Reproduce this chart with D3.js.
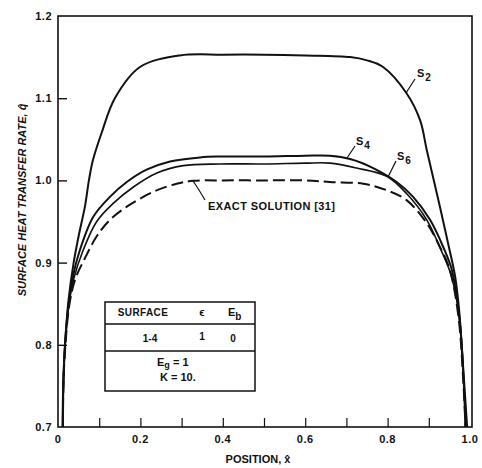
<!DOCTYPE html>
<html>
<head>
<meta charset="utf-8">
<script src="https://cdn.jsdelivr.net/npm/d3@7"></script>
<style>
  body { margin: 0; background: #fff; }
  svg { display: block; }
  text { font-family: "Liberation Sans", Arial, sans-serif; font-weight: bold; fill: #111; }
</style>
</head>
<body>
<div id="chart"></div>
<script>
// x positions and surface heat transfer rates
const s2X = [0.011, 0.013, 0.017, 0.025, 0.038, 0.050, 0.066, 0.075, 0.085, 0.106, 0.138, 0.199, 0.296, 0.400, 0.500, 0.600, 0.709, 0.750, 0.789, 0.846, 0.879, 0.895, 0.927, 0.947, 0.964, 0.974, 0.985, 0.993];
const s2Y = [0.700, 0.757, 0.800, 0.852, 0.900, 0.932, 0.970, 1.000, 1.025, 1.058, 1.100, 1.138, 1.152, 1.153, 1.153, 1.152, 1.150, 1.146, 1.138, 1.106, 1.073, 1.037, 0.968, 0.923, 0.883, 0.840, 0.760, 0.700];

const s4X = [0.012, 0.013, 0.017, 0.026, 0.035, 0.053, 0.086, 0.126, 0.167, 0.215, 0.272, 0.345, 0.393, 0.500, 0.600, 0.660, 0.709, 0.765, 0.822, 0.862, 0.903, 0.935, 0.956, 0.974, 0.985, 0.989];
const s4Y = [0.700, 0.750, 0.800, 0.850, 0.880, 0.915, 0.956, 0.980, 0.998, 1.013, 1.023, 1.028, 1.029, 1.029, 1.030, 1.030, 1.026, 1.015, 0.998, 0.980, 0.952, 0.919, 0.891, 0.834, 0.753, 0.700];

const s6X = [0.012, 0.013, 0.017, 0.027, 0.038, 0.061, 0.094, 0.134, 0.183, 0.240, 0.304, 0.393, 0.500, 0.600, 0.660, 0.725, 0.798, 0.846, 0.895, 0.930, 0.954, 0.974, 0.985, 0.989];
const s6Y = [0.700, 0.750, 0.800, 0.850, 0.880, 0.915, 0.950, 0.972, 0.992, 1.009, 1.018, 1.020, 1.020, 1.021, 1.021, 1.015, 1.005, 0.984, 0.952, 0.915, 0.885, 0.834, 0.753, 0.700];

const exactX = [0.012, 0.013, 0.018, 0.028, 0.042, 0.065, 0.094, 0.126, 0.167, 0.231, 0.288, 0.328, 0.393, 0.500, 0.600, 0.660, 0.741, 0.798, 0.846, 0.895, 0.927, 0.951, 0.972, 0.984, 0.989];
const exactY = [0.700, 0.750, 0.800, 0.850, 0.880, 0.905, 0.932, 0.952, 0.968, 0.986, 0.996, 0.9995, 1.000, 1.000, 1.000, 0.998, 0.996, 0.988, 0.976, 0.948, 0.919, 0.891, 0.834, 0.753, 0.700];

const yTicks = [0.7, 0.8, 0.9, 1.0, 1.1, 1.2];
const yTickLabels = ["0.7", "0.8", "0.9", "1.0", "1.1", "1.2"];
const xTicks = [0, 0.1, 0.2, 0.3, 0.4, 0.5, 0.6, 0.7, 0.8, 0.9, 1.0];
const xTickLabels = ["0", "0.2", "0.4", "0.6", "0.8", "1.0"];

const width = 482;
const height = 468;

const svg = d3.select("#chart")
  .append("svg")
  .attr("width", width)
  .attr("height", height);

const x = d3.scaleLinear().domain([0, 1]).range([58, 470]);
const y = d3.scaleLinear().domain([0.7, 1.2]).range([427, 16]);

// frame
svg.append("rect")
  .attr("x", x(0))
  .attr("y", y(1.2))
  .attr("width", x(1) - x(0) + 2)
  .attr("height", y(0.7) - y(1.2))
  .attr("fill", "none")
  .attr("stroke", "#111")
  .attr("stroke-width", 1.6);

// inward ticks on the left
svg.append("g")
  .attr("transform", "translate(" + x(0) + ",0)")
  .call(d3.axisRight(y).tickValues(yTicks.slice(1, -1)).tickSize(9).tickFormat(""))
  .call(g => g.select(".domain").remove())
  .call(g => g.selectAll("line").attr("stroke", "#111").attr("stroke-width", 1.4));

// inward ticks on the bottom
svg.append("g")
  .attr("transform", "translate(0," + y(0.7) + ")")
  .call(d3.axisTop(x).tickValues(xTicks.slice(1, -1)).tickSize(9).tickFormat(""))
  .call(g => g.select(".domain").remove())
  .call(g => g.selectAll("line").attr("stroke", "#111").attr("stroke-width", 1.2));

// tick labels
svg.append("g").selectAll("text")
  .data(yTicks)
  .join("text")
  .attr("x", 52)
  .attr("y", d => y(d) + 4)
  .attr("text-anchor", "end")
  .attr("font-size", 11)
  .attr("letter-spacing", 0.5)
  .text((d, i) => yTickLabels[i]);

svg.append("g").selectAll("text")
  .data(xTickLabels)
  .join("text")
  .attr("x", d => x(+d))
  .attr("y", 443)
  .attr("text-anchor", "middle")
  .attr("font-size", 11)
  .attr("letter-spacing", 0.5)
  .text(d => d);

// axis titles
svg.append("text")
  .attr("x", 258)
  .attr("y", 463)
  .attr("text-anchor", "middle")
  .attr("font-size", 11)
  .text("POSITION, x\u0302");

svg.append("text")
  .attr("transform", "translate(26,200) rotate(-90)")
  .attr("text-anchor", "middle")
  .attr("font-size", 11)
  .attr("font-style", "italic")
  .text("SURFACE HEAT TRANSFER RATE, q\u0302");

// curves
const line = d3.line()
  .x(d => x(d[0]))
  .y(d => y(d[1]))
  .curve(d3.curveCatmullRom.alpha(0.5));

const series = [
  { xs: s2X, ys: s2Y, w: 2, dash: null },
  { xs: s4X, ys: s4Y, w: 2, dash: null },
  { xs: s6X, ys: s6Y, w: 1.6, dash: null },
  { xs: exactX, ys: exactY, w: 2, dash: "12,5" }
];

series.forEach(s => {
  svg.append("path")
    .datum(d3.zip(s.xs, s.ys))
    .attr("d", line)
    .attr("fill", "none")
    .attr("stroke", "#111")
    .attr("stroke-width", s.w)
    .attr("stroke-dasharray", s.dash);
});

// curve labels with leader lines
const labels = [
  { name: "S", sub: "2", tx: 417, ty: 77, lx1: 415, ly1: 79, lx2: 406, ly2: 93 },
  { name: "S", sub: "4", tx: 356, ty: 145, lx1: 355, ly1: 146, lx2: 347, ly2: 158 },
  { name: "S", sub: "6", tx: 397, ty: 160, lx1: 396, ly1: 161, lx2: 388, ly2: 177 }
];

labels.forEach(l => {
  const t = svg.append("text")
    .attr("x", l.tx)
    .attr("y", l.ty)
    .attr("font-size", 11);
  t.append("tspan").text(l.name);
  t.append("tspan").attr("dx", 1).attr("dy", 4).attr("font-size", 10).text(l.sub);
  svg.append("line")
    .attr("x1", l.lx1).attr("y1", l.ly1)
    .attr("x2", l.lx2).attr("y2", l.ly2)
    .attr("stroke", "#111")
    .attr("stroke-width", 1.2);
});

svg.append("path")
  .attr("d", "M193,181 Q198,188 205,200")
  .attr("fill", "none")
  .attr("stroke", "#111")
  .attr("stroke-width", 1.2);

svg.append("text")
  .attr("x", 208)
  .attr("y", 210)
  .attr("font-size", 11)
  .attr("letter-spacing", 0.4)
  .text("EXACT SOLUTION [31]");

// parameter table
const box = svg.append("g");
box.append("rect")
  .attr("x", 105).attr("y", 302)
  .attr("width", 150).attr("height", 89)
  .attr("fill", "#fff")
  .attr("stroke", "#111")
  .attr("stroke-width", 1.5);
[324, 351].forEach(yy => {
  box.append("line")
    .attr("x1", 105).attr("x2", 255)
    .attr("y1", yy).attr("y2", yy)
    .attr("stroke", "#111")
    .attr("stroke-width", 1.3);
});

box.append("text").attr("x", 143).attr("y", 316).attr("text-anchor", "middle")
  .attr("font-size", 10).attr("letter-spacing", 0.4).text("SURFACE");
box.append("text").attr("x", 202).attr("y", 316).attr("text-anchor", "middle")
  .attr("font-size", 11).text("\u03f5");
const eb = box.append("text").attr("x", 228).attr("y", 316).attr("font-size", 11);
eb.append("tspan").text("E");
eb.append("tspan").attr("dy", 4).attr("font-size", 10).text("b");

box.append("text").attr("x", 150).attr("y", 342).attr("text-anchor", "middle")
  .attr("font-size", 10).text("1-4");
box.append("text").attr("x", 202).attr("y", 340).attr("text-anchor", "middle")
  .attr("font-size", 10).text("1");
box.append("text").attr("x", 233).attr("y", 342).attr("text-anchor", "middle")
  .attr("font-size", 10).text("0");

const eg = box.append("text").attr("x", 157).attr("y", 366).attr("font-size", 11);
eg.append("tspan").text("E");
eg.append("tspan").attr("dy", 2).attr("font-size", 9).text("g");
eg.append("tspan").attr("dy", -2).text(" = 1");
box.append("text").attr("x", 160).attr("y", 381).attr("font-size", 11).text("K = 10.");
</script>
</body>
</html>
